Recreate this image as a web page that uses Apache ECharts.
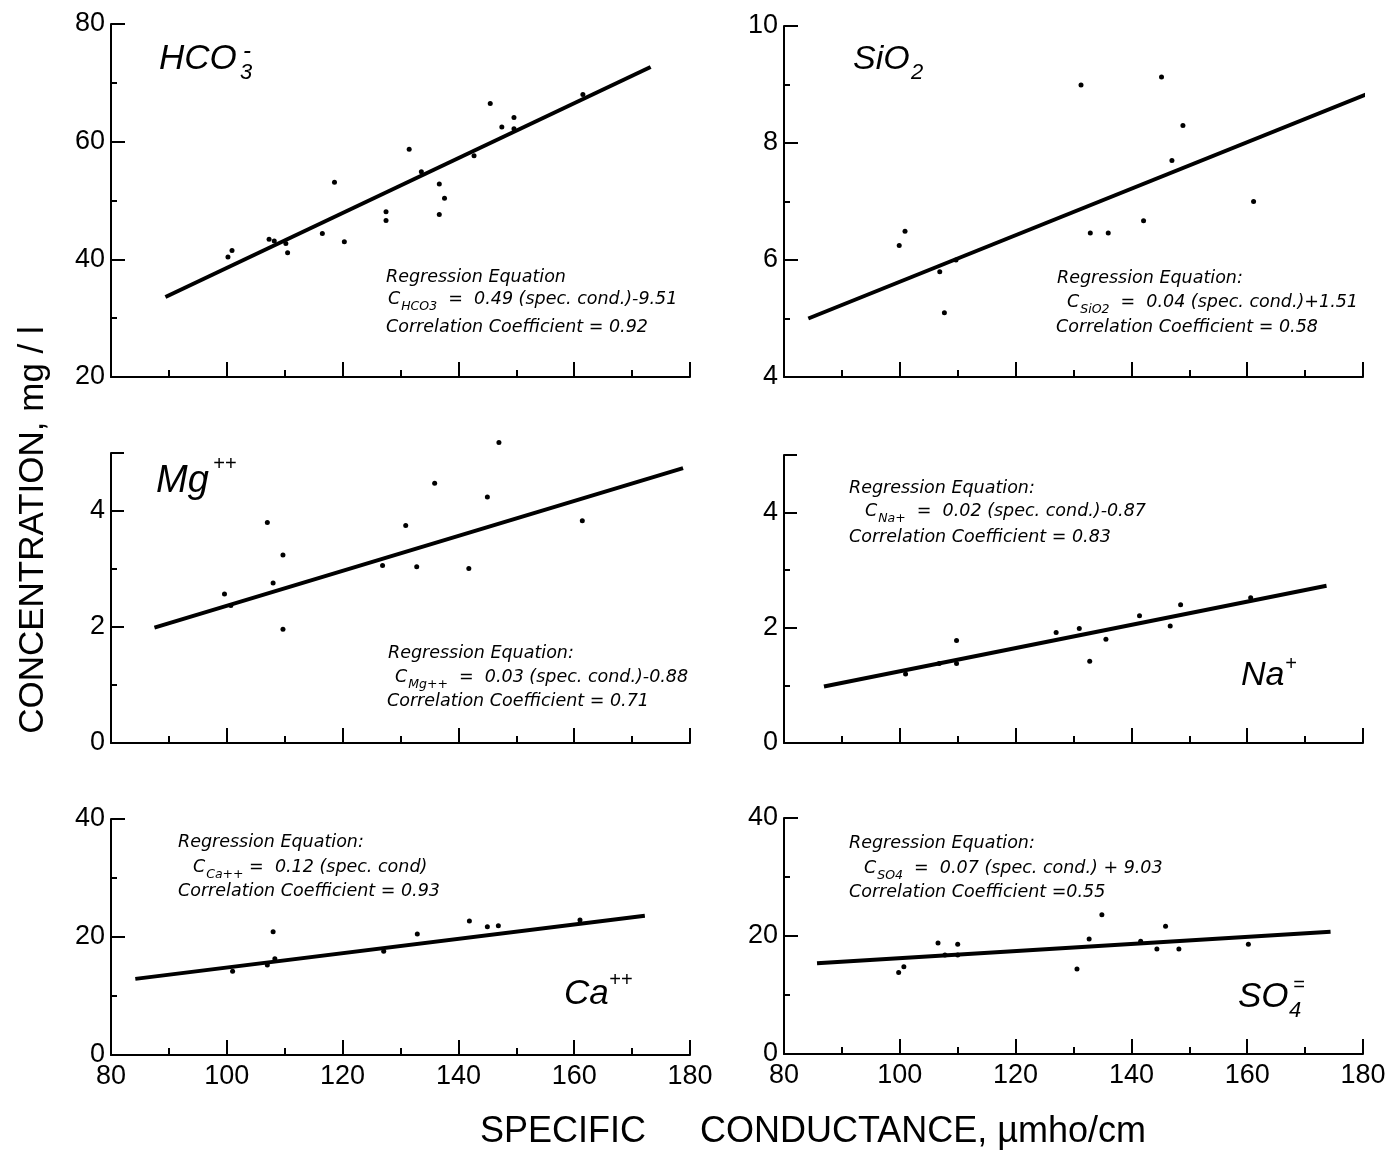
<!DOCTYPE html>
<html>
<head>
<meta charset="utf-8">
<script src="https://cdn.jsdelivr.net/npm/echarts@6/dist/echarts.min.js"></script>
<style>
  html, body { margin: 0; background: #fff; }
  #chart { width: 1391px; height: 1158px; }
</style>
</head>
<body>
<div id="chart"></div>
<script>
// specific conductance (umho/cm) vs concentration (mg/l), one panel per ion
var xTickLabels = [80, 100, 120, 140, 160, 180];

var hco3Points = [[100.9, 41.5], [100.2, 40.4], [107.3, 43.4], [108.2, 43.1], [110.2, 42.7], [110.5, 41.1],
  [116.5, 44.4], [118.6, 53.1], [120.3, 43.0], [127.5, 48.1], [127.5, 46.6], [131.5, 58.7], [133.6, 54.9],
  [136.7, 52.8], [137.6, 50.4], [136.7, 47.6], [142.7, 57.6], [145.5, 66.5], [147.5, 62.5], [149.6, 64.1],
  [149.6, 62.2], [161.5, 68.0]];
var hco3Fit = [[89.4, 33.6], [173.2, 72.7]];

var sio2Points = [[99.9, 6.25], [100.9, 6.49], [106.9, 5.8], [107.7, 5.10], [109.7, 6.0], [131.3, 8.99],
  [132.9, 6.46], [136.0, 6.46], [142.1, 6.67], [145.2, 9.13], [147.0, 7.70], [148.9, 8.30], [161.1, 7.0]];
var sio2Fit = [[84.2, 5.0], [180.5, 8.83]];

var mgPoints = [[99.6, 2.57], [100.7, 2.37], [107.0, 3.80], [108.0, 2.76], [109.7, 3.24], [109.7, 1.96],
  [126.9, 3.06], [130.9, 3.75], [132.8, 3.04], [135.9, 4.48], [141.8, 3.01], [145.0, 4.24], [147.0, 5.18],
  [161.4, 3.83]];
var mgFit = [[87.5, 1.99], [178.8, 4.74]];

var naPoints = [[101.0, 1.20], [106.8, 1.38], [109.8, 1.38], [109.8, 1.78], [127.0, 1.92], [131.0, 1.99],
  [132.8, 1.42], [135.6, 1.80], [141.4, 2.21], [146.7, 2.03], [148.5, 2.40], [160.6, 2.52]];
var naFit = [[86.9, 0.98], [173.7, 2.73]];

var caPoints = [[101.0, 14.2], [107.0, 15.25], [108.0, 20.9], [108.3, 16.3], [127.1, 17.6], [132.9, 20.5],
  [141.9, 22.7], [145.0, 21.75], [146.9, 21.9], [161.0, 22.9]];
var caFit = [[84.2, 12.9], [172.2, 23.6]];

var so4Points = [[99.8, 13.8], [100.7, 14.8], [106.6, 18.8], [107.8, 16.8], [110.0, 18.6], [110.0, 16.8],
  [130.6, 14.4], [132.7, 19.5], [134.9, 23.6], [141.6, 19.1], [144.4, 17.8], [145.9, 21.65], [148.2, 17.8],
  [160.2, 18.6]];
var so4Fit = [[85.7, 15.4], [174.4, 20.7]];

// [min, max, labelled step]
var yRanges = [[20, 80, 20], [4, 10, 2], [0, 5, 2], [0, 5, 2], [0, 40, 20], [0, 40, 20]];

var panelPoints = [hco3Points, sio2Points, mgPoints, naPoints, caPoints, so4Points];
var panelFits = [hco3Fit, sio2Fit, mgFit, naFit, caFit, so4Fit];

var F = 'Liberation Sans';
var EF = 'DejaVu Sans';
var black = '#000';

var chart = echarts.init(document.getElementById('chart'));

var grids = [
  {left: 111, top: 24, width: 579, height: 353},
  {left: 784, top: 26, width: 579, height: 351},
  {left: 111, top: 453, width: 579, height: 290},
  {left: 784, top: 455, width: 579, height: 288},
  {left: 111, top: 819, width: 579, height: 236},
  {left: 784, top: 818, width: 579, height: 236}
];

var xAxes = [], yAxes = [], series = [];
for (var i = 0; i < 6; i++) {
  xAxes.push({
    type: 'value', gridIndex: i, min: 80, max: 180, interval: 20,
    axisLine: {onZero: false, lineStyle: {color: black, width: 2}},
    axisTick: {inside: true, length: 15, lineStyle: {color: black, width: 2}},
    minorTick: {show: true, splitNumber: 2, length: 7, lineStyle: {color: black, width: 2}},
    splitLine: {show: false},
    axisLabel: {
      show: i >= 4, color: black, fontFamily: F, fontSize: 27, margin: 8,
      formatter: function (v) { return xTickLabels.indexOf(v) >= 0 ? String(v) : ''; }
    }
  });
  var r = yRanges[i];
  var small = r[1] === 5;
  yAxes.push({
    type: 'value', gridIndex: i, min: r[0], max: r[1], interval: small ? 1 : r[2], position: 'left',
    axisLine: {onZero: false, lineStyle: {color: black, width: 2}},
    axisTick: {inside: true, length: small ? 6 : 14, lineStyle: {color: black, width: 2}},
    minorTick: {show: !small, splitNumber: 2, length: 6, lineStyle: {color: black, width: 2}},
    splitLine: {show: false},
    axisLabel: {
      color: black, fontFamily: F, fontSize: 27, margin: 6,
      formatter: function (v) { return v % 2 === 0 ? String(v) : ''; }
    }
  });
  series.push({
    type: 'line', xAxisIndex: i, yAxisIndex: i, data: panelFits[i], symbol: 'none',
    lineStyle: {color: black, width: 4}, z: 2, silent: true
  });
  series.push({
    type: 'scatter', xAxisIndex: i, yAxisIndex: i, data: panelPoints[i], symbolSize: 5,
    itemStyle: {color: black, opacity: 1}, clip: false, z: 3
  });
}
// long ticks at the labelled values of the 0-5 panels
[2, 3].forEach(function (g) {
  yAxes.push({
    type: 'value', gridIndex: g, min: 0, max: 5, interval: 2, position: 'left',
    axisLine: {show: false}, axisLabel: {show: false}, splitLine: {show: false},
    axisTick: {inside: true, length: 13, lineStyle: {color: black, width: 2}}
  });
});

function txt(x, y, s, size) {
  return {type: 'text', z: 10, style: {x: x, y: y, text: s, fill: black, fontFamily: F, fontSize: size,
    fontStyle: 'italic', align: 'left', verticalAlign: 'middle'}};
}

var eqRich = {
  n: {fill: black, fontFamily: EF, fontStyle: 'italic', fontSize: 17.5},
  s: {fill: black, fontFamily: EF, fontStyle: 'italic', fontSize: 12.5, padding: [16, 0, 0, 1]}
};
function eq(x, y, sub, rest) {
  return {type: 'text', z: 10, style: {x: x, y: y, text: '{n|C}{s|' + sub + '}{n|' + rest + '}',
    rich: eqRich, align: 'left', verticalAlign: 'middle'}};
}
function plain(x, y, s) {
  return {type: 'text', z: 10, style: {x: x, y: y, text: s, fill: black, fontFamily: EF,
    fontStyle: 'italic', fontSize: 17.5, align: 'left', verticalAlign: 'middle'}};
}

var graphics = [
  // panel names
  txt(159, 59, 'HCO', 35), txt(240, 73, '3', 22), txt(243, 51, '-', 24),
  txt(853, 60, 'SiO', 34), txt(911, 73, '2', 22),
  txt(156, 481, 'Mg', 38), txt(213, 464, '++', 20),
  txt(1241, 676, 'Na', 34), txt(1285, 664, '+', 20),
  txt(564, 994, 'Ca', 35), txt(609, 980, '++', 20),
  txt(1238, 997, 'SO', 35), txt(1289, 1011, '4', 22), txt(1293, 985, '=', 20),
  // regression notes
  plain(386, 277, 'Regression Equation'),
  eq(388, 299, 'HCO3', '  =  0.49 (spec. cond.)-9.51'),
  plain(386, 327, 'Correlation Coefficient = 0.92'),
  plain(1057, 278, 'Regression Equation:'),
  eq(1067, 302, 'SiO2', '  =  0.04 (spec. cond.)+1.51'),
  plain(1056, 327, 'Correlation Coefficient = 0.58'),
  plain(388, 653, 'Regression Equation:'),
  eq(395, 677, 'Mg++', '  =  0.03 (spec. cond.)-0.88'),
  plain(387, 701, 'Correlation Coefficient = 0.71'),
  plain(849, 488, 'Regression Equation:'),
  eq(865, 511, 'Na+', '  =  0.02 (spec. cond.)-0.87'),
  plain(849, 537, 'Correlation Coefficient = 0.83'),
  plain(178, 842, 'Regression Equation:'),
  eq(193, 867, 'Ca++', ' =  0.12 (spec. cond)'),
  plain(178, 891, 'Correlation Coefficient = 0.93'),
  plain(849, 843, 'Regression Equation:'),
  eq(864, 868, 'SO4', '  =  0.07 (spec. cond.) + 9.03'),
  plain(849, 892, 'Correlation Coefficient =0.55'),
  // axis titles
  {type: 'text', z: 10, rotation: Math.PI / 2, x: 33, y: 530,
    style: {x: 0, y: 0, text: 'CONCENTRATION, mg / l', fill: black, fontFamily: F, fontSize: 35,
      align: 'center', verticalAlign: 'middle'}},
  {type: 'text', z: 10, style: {x: 480, y: 1132, text: 'SPECIFIC', fill: black, fontFamily: F,
    fontSize: 36, align: 'left', verticalAlign: 'middle'}},
  {type: 'text', z: 10, style: {x: 700, y: 1132, text: 'CONDUCTANCE, \u00b5mho/cm', fill: black,
    fontFamily: F, fontSize: 36, align: 'left', verticalAlign: 'middle'}}
];

var option = {
  backgroundColor: '#fff',
  animation: false,
  grid: grids,
  xAxis: xAxes,
  yAxis: yAxes,
  series: series,
  graphic: graphics
};
chart.setOption(option);
</script>
</body>
</html>
